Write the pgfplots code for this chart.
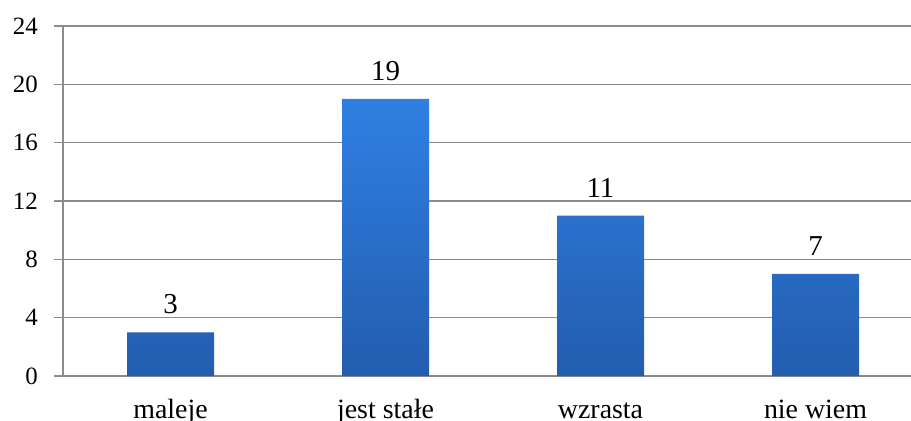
\documentclass[border=0pt]{standalone}
\usepackage{fontspec}
\setmainfont{Liberation Serif}
\usepackage{pgfplots}
\pgfplotsset{compat=1.18}
\definecolor{gridgray}{HTML}{8C8C8C}
\definecolor{bartop}{HTML}{2F80E3}
\definecolor{barbot}{HTML}{235DAE}
\begin{document}
\begin{tikzpicture}
\begin{axis}[
  scale only axis,
  width=848bp, height=350bp,
  ymin=0, ymax=24,
  ytick={0,4,...,24},
  xmin=-0.5, xmax=3.444,
  xtick={0,1,2,3},
  xticklabels={maleje, jest stałe, wzrasta, nie wiem},
  extra x ticks={-0.5,0.5,1.5,2.5},
  extra x tick labels={},
  extra x tick style={major tick length=9bp, tick style={gridgray, line width=1.2bp}, grid=none},
  axis x line*=bottom,
  axis y line*=left,
  axis line style={gridgray, line width=1.2bp},
  ymajorgrids,
  major grid style={gridgray, line width=1.2bp},
  tick align=outside,
  x tick style={draw=none},
  y tick style={gridgray, line width=1.2bp},
  major tick length=9bp,
  /pgf/number format/assume math mode=true,
  yticklabel style={font=\fontsize{25}{30}\selectfont, inner sep=0pt, xshift=-16bp},
  xticklabel style={font=\fontsize{28}{32}\selectfont, anchor=base, inner sep=0pt, yshift=-33bp},
  nodes near coords,
  every node near coord/.append style={font=\fontsize{29}{34}\selectfont, inner sep=0pt, yshift=18bp, black},
  clip=false,
]
\addplot[ybar, bar width=87bp, draw=none, top color=bartop, bottom color=barbot] coordinates {(0,3) (1,19) (2,11) (3,7)};
\end{axis}
\pgfresetboundingbox
\path[use as bounding box] ([shift={(-63bp,-45bp)}]current axis.south west) rectangle ([shift={(0bp,26bp)}]current axis.north east);
\end{tikzpicture}
\end{document}
